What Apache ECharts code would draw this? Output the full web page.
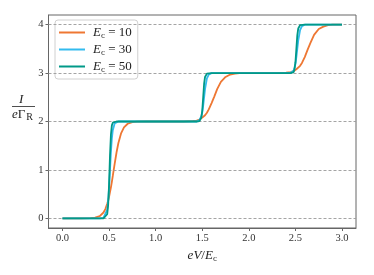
<!DOCTYPE html>
<html><head><meta charset="utf-8">
<script src="https://cdn.jsdelivr.net/npm/echarts@6/dist/echarts.min.js"></script>
<style>html,body{margin:0;padding:0;background:#fff}#c{width:374px;height:275px}</style>
</head><body><div id="c"></div>
<script>
// eV/Ec sample positions
var xs = [0,0.1,0.2,0.3,0.35,0.4,0.44,0.46,0.48,0.49,0.5,0.51,0.52,0.53,0.54,0.56,0.58,0.6,0.63,0.66,0.7,0.75,0.8,0.9,1.0,1.1,1.2,1.3,1.4,1.44,1.47,1.49,1.5,1.51,1.52,1.53,1.55,1.57,1.6,1.63,1.66,1.7,1.75,1.8,1.85,1.9,2.0,2.1,2.2,2.3,2.4,2.45,2.48,2.49,2.5,2.51,2.52,2.53,2.55,2.57,2.6,2.63,2.66,2.7,2.75,2.8,2.85,2.9,3.0];
// I/(e Gamma_R) for each Ec
var ec10 = [0,0,0,0.004,0.013,0.046,0.12,0.19,0.30,0.365,0.445,0.54,0.64,0.755,0.876,1.124,1.36,1.555,1.76,1.88,1.954,1.987,1.996,2,2,2,2,2,2.01,2.02,2.04,2.06,2.08,2.09,2.11,2.13,2.18,2.25,2.38,2.52,2.67,2.82,2.92,2.97,2.99,3,3,3,3,3,3.01,3.02,3.04,3.05,3.06,3.08,3.09,3.11,3.15,3.21,3.33,3.48,3.62,3.79,3.91,3.96,3.99,4,4];
var ec30 = [0,0,0,0,0,0,0.009,0.042,0.18,0.35,0.63,1.0,1.37,1.65,1.82,1.96,1.99,2,2,2,2,2,2,2,2,2,2,2,2,2,2.03,2.11,2.19,2.33,2.5,2.67,2.89,2.97,3,3,3,3,3,3,3,3,3,3,3,3,3,3.01,3.05,3.11,3.19,3.33,3.5,3.67,3.89,3.97,4,4,4,4,4,4,4,4,4];
var ec50 = [0,0,0,0,0,0,0,0.007,0.084,0.27,0.70,1.30,1.73,1.92,1.975,2,2,2,2,2,2,2,2,2,2,2,2,2,2,2,2.01,2.08,2.22,2.5,2.78,2.92,2.99,3,3,3,3,3,3,3,3,3,3,3,3,3,3,3,3.02,3.08,3.22,3.5,3.78,3.92,3.99,4,4,4,4,4,4,4,4,4,4];
var seriesNames = ['Ec = 10','Ec = 30','Ec = 50'];
var ecValues = ['10','30','50'];
var xTicks = [0,0.5,1.0,1.5,2.0,2.5,3.0];
var yTicks = [0,1,2,3,4];
var colors = ['#EE7733','#33BBEE','#009988'];

function pairs(arr){ return xs.map(function(x,i){ return [x, arr[i]]; }); }
var serif = 'Liberation Serif, DejaVu Serif, serif';
var chart = echarts.init(document.getElementById('c'), null, {renderer:'canvas'});
var dataSets = [ec10, ec30, ec50];
var series = dataSets.map(function(d,i){
  return {name: seriesNames[i], type:'line', data: pairs(d), symbol:'none', showSymbol:false,
    smooth:false, z: 3+i, lineStyle:{color: colors[i], width: 1.8}, itemStyle:{color: colors[i]}, animation:false};
});
series.unshift({name:'grid', type:'line', data:[], z:1, animation:false,
  markLine:{silent:true, symbol:['none','none'], label:{show:false},
    lineStyle:{color:'#9a9a9a', width:0.9, type:[3,2]},
    data: yTicks.map(function(v){ return {yAxis: v}; })}});
chart.setOption({
  animation:false,
  backgroundColor:'#fff',
  grid:{left:48.5, top:15, right:18, bottom:47, show:true, borderColor:'#666', borderWidth:1, backgroundColor:'transparent'},
  xAxis:{type:'value', min:-0.15, max:3.15,
    axisLine:{show:true, onZero:false, lineStyle:{color:'#666'}},
    axisTick:{show:true, length:3, customValues: xTicks, lineStyle:{color:'#666'}},
    axisLabel:{customValues: xTicks, formatter:function(v){return v.toFixed(1);}, fontFamily:serif, fontSize:10.5, color:'#333', margin:5},
    splitLine:{show:false},
    name:'{i|eV}/{i|E}{s|c}', nameLocation:'middle', nameGap:20,
    nameTextStyle:{fontFamily:serif, fontSize:13, color:'#222', rich:{i:{fontStyle:'italic', fontFamily:serif, fontSize:13}, s:{fontFamily:serif, fontSize:9, verticalAlign:'bottom', padding:[6,0,0,0]}}}
  },
  yAxis:{type:'value', min:-0.2, max:4.2,
    axisLine:{show:true, onZero:false, lineStyle:{color:'#666'}},
    axisTick:{show:true, length:3, customValues: yTicks, lineStyle:{color:'#666'}},
    axisLabel:{customValues: yTicks, fontFamily:serif, fontSize:10.5, color:'#333', margin:5},
    splitLine:{show:false}
  },
  legend:{data: seriesNames, orient:'vertical', left:55, top:20, padding:[6,6,5,4], itemGap:3,
    icon:'rect', itemWidth:26, itemHeight:2, backgroundColor:'#fff', borderColor:'#d0d0d0', borderWidth:1, borderRadius:3,
    formatter:function(n){ var k = seriesNames.indexOf(n); return '{i|E}{s|c} = ' + ecValues[k]; },
    textStyle:{fontFamily:serif, fontSize:13, color:'#222', padding:[0,0,0,3], rich:{i:{fontStyle:'italic', fontFamily:serif, fontSize:13}, s:{fontFamily:serif, fontSize:9, padding:[6,0,0,0]}}}
  },
  graphic:[
    {type:'text', left:19, top:93, style:{text:'I', font:'italic 13px Liberation Serif', fill:'#222'}},
    {type:'line', shape:{x1:12, y1:106.5, x2:35, y2:106.5}, style:{stroke:'#222', lineWidth:0.8}},
    {type:'text', left:12, top:108, style:{text:'{i|e}{u|Γ}{s|R}', rich:{i:{font:'italic 13px Liberation Serif', fill:'#222'}, u:{font:'13px Liberation Serif', fill:'#222'}, s:{font:'10px Liberation Serif', fill:'#222', padding:[5,0,0,1]}}}}
  ],
  series: series
});
</script></body></html>
